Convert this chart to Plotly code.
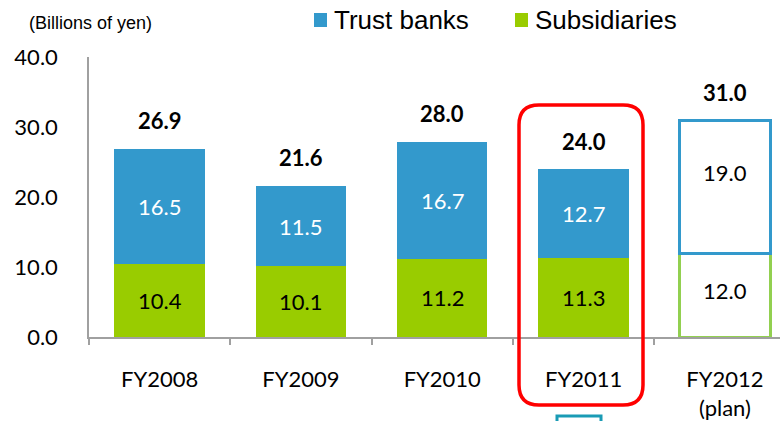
import plotly.graph_objects as go

categories = ["FY2008", "FY2009", "FY2010", "FY2011", "FY2012<br>(plan)"]
subsidiaries = [10.4, 10.1, 11.2, 11.3, 12.0]
trust_banks = [16.5, 11.5, 16.7, 12.7, 19.0]
totals = [26.9, 21.6, 28.0, 24.0, 31.0]
y_ticks = [0, 10, 20, 30, 40]
y_tick_labels = ["0.0", "10.0", "20.0", "30.0", "40.0"]
legend_names = ["Trust banks", "Subsidiaries"]

BLUE = "#3399CC"
GREEN = "#99CC00"
GREEN_LINE = "#92D050"
NUM_FONT = "Lato"
TXT_FONT = "Liberation Sans, Arial"

W, H = 780, 421
L, R, T, B = 89, 0, 57, 84
PW, PH = W - L - R, H - T - B

def px(x):
    return (x - L) / PW

def py(y):
    return (H - B - y) / PH

fig = go.Figure()
n = len(categories)
fig.add_bar(
    x=categories, y=subsidiaries, name=legend_names[1], width=0.64,
    marker=dict(color=[GREEN] * (n - 1) + ["white"],
                line=dict(color=[GREEN] * (n - 1) + [GREEN_LINE], width=[0] * (n - 1) + [3])),
    hoverinfo="skip",
)
fig.add_bar(
    x=categories, y=trust_banks, name=legend_names[0], width=0.64,
    marker=dict(color=[BLUE] * (n - 1) + ["white"],
                line=dict(color=BLUE, width=[0] * (n - 1) + [3])),
    hoverinfo="skip",
)

annotations = []
for i, c in enumerate(categories):
    plan = i == n - 1
    annotations.append(dict(x=c, y=totals[i], text="<b>%.1f</b>" % totals[i], showarrow=False,
                            yshift=28, font=dict(family=NUM_FONT, size=22, color="black")))
    annotations.append(dict(x=c, y=subsidiaries[i] / 2, text="%.1f" % subsidiaries[i], showarrow=False,
                            yshift=5 if plan else 0,
                            font=dict(family=NUM_FONT, size=22, color="black")))
    annotations.append(dict(x=c, y=subsidiaries[i] + trust_banks[i] / 2, text="%.1f" % trust_banks[i],
                            showarrow=False, yshift=14 if plan else 0,
                            font=dict(family=NUM_FONT, size=22, color="black" if plan else "white")))
annotations.append(dict(xref="paper", yref="paper", x=px(27), y=py(23), xanchor="left", yanchor="middle",
                        text="(Billions of yen)", showarrow=False,
                        font=dict(family=TXT_FONT, size=18, color="black")))

shapes = []
# manual legend
for name, color, sx, tx in [(legend_names[0], BLUE, 314, 332), (legend_names[1], GREEN, 515, 533)]:
    shapes.append(dict(type="rect", xref="paper", yref="paper", x0=px(sx), x1=px(sx + 13),
                       y0=py(27), y1=py(13), fillcolor=color, line=dict(width=0)))
    annotations.append(dict(xref="paper", yref="paper", x=px(tx), y=py(20), xanchor="left",
                            yanchor="middle", text=name, showarrow=False,
                            font=dict(family=TXT_FONT, size=26, color="black")))

# rounded red rectangle around FY2011
x0, x1, y0, y1 = px(519), px(643), py(405), py(105)
rx, ry = 20 / PW, 20 / PH
path = (f"M {x0+rx},{y0} L {x1-rx},{y0} Q {x1},{y0} {x1},{y0+ry} L {x1},{y1-ry} Q {x1},{y1} {x1-rx},{y1} "
        f"L {x0+rx},{y1} Q {x0},{y1} {x0},{y1-ry} L {x0},{y0+ry} Q {x0},{y0} {x0+rx},{y0} Z")
shapes += [
    dict(type="path", xref="paper", yref="paper", path=path, line=dict(color="#FF0000", width=3.5)),
    dict(type="rect", xref="paper", yref="paper", x0=px(557), x1=px(601), y0=py(416), y1=py(430),
         line=dict(color="#1A9BB5", width=3)),
]

fig.update_layout(
    width=W, height=H, margin=dict(l=L, r=R, t=T, b=B, autoexpand=False),
    barmode="stack", bargap=0.36,
    plot_bgcolor="white", paper_bgcolor="white",
    showlegend=False,
    annotations=annotations, shapes=shapes,
    xaxis=dict(range=[-0.5, 4.39], showline=True, linecolor="#A0A0A0", linewidth=1.5,
               ticks="outside", tickson="boundaries", ticklen=6, tickcolor="#A0A0A0", tickwidth=1.5,
               tickfont=dict(family=NUM_FONT, size=22, color="black"), ticklabelstandoff=22,
               showgrid=False, fixedrange=True, automargin=False),
    yaxis=dict(range=[0, 40], tickvals=y_ticks, ticktext=y_tick_labels, showline=True,
               linecolor="#A0A0A0", linewidth=1.5, ticks="", showgrid=False, zeroline=False,
               tickfont=dict(family=NUM_FONT, size=22, color="black"), ticklabelstandoff=25,
               fixedrange=True, automargin=False),
)

fig.write_html("out.html", config={"displayModeBar": False},
               post_script="document.body.style.margin='0';document.body.style.overflow='hidden';")
